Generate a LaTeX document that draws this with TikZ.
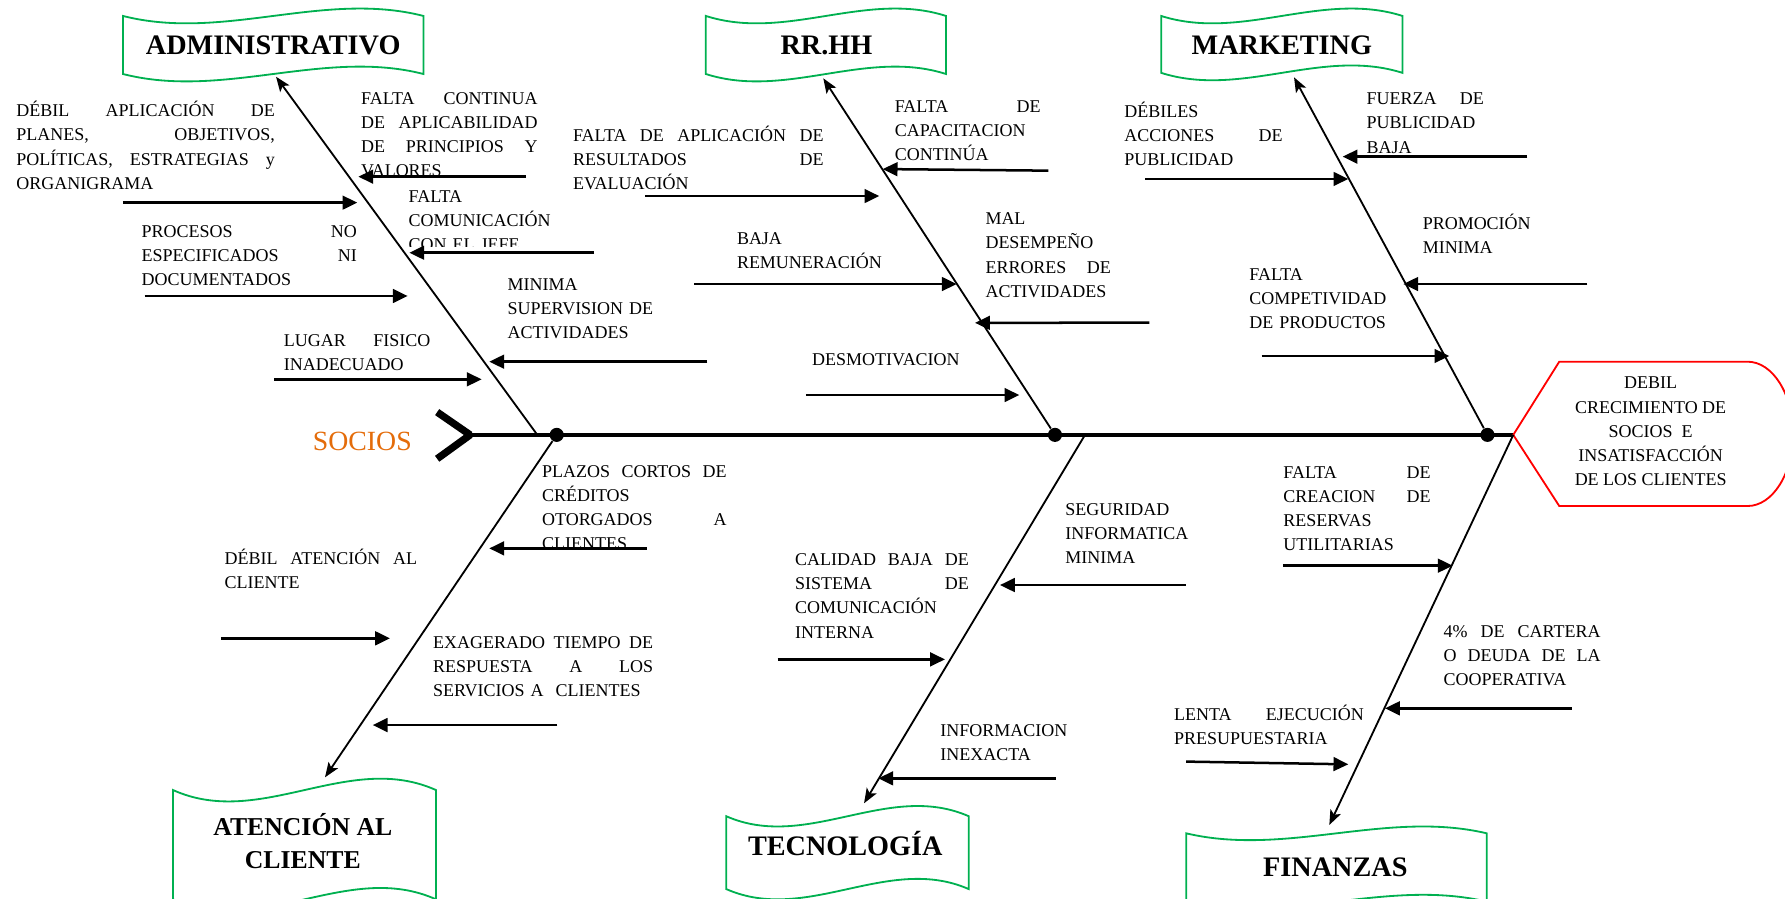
\documentclass[tikz,border=0pt]{standalone}
\usepackage{fontspec}
\setmainfont{Liberation Serif}
\usetikzlibrary{arrows.meta}

\definecolor{verdecinta}{RGB}{0,176,80}
\definecolor{naranjasocios}{RGB}{228,108,10}

% a justified line of a cause text (spaces stretched to the full width)
\newcommand{\jl}[1]{{\spaceskip=0.25em plus 1fil minus 0.05em\makebox[\linewidth][s]{#1}}}
% wavy ribbon outline: x-left, x-right, top edge, bottom edge, wave amplitude
\newcommand{\onda}[5]{%
  \draw[cinta] (#1,#3) .. controls ({#1+(#2-#1)/3},{#3+3.46*#5}) and ({#1+2*(#2-#1)/3},{#3-3.46*#5}) .. (#2,#3)
    -- (#2,#4) .. controls ({#1+2*(#2-#1)/3},{#4-3.46*#5}) and ({#1+(#2-#1)/3},{#4+3.46*#5}) .. (#1,#4) -- cycle;}
% horizontal cause arrow between two named coordinates
\newcommand{\causa}[5]{%
  \coordinate (#1-o) at (#2,#3);
  \coordinate (#1-f) at (#4,#5);
  \draw[flecha] (#1-o) -- (#1-f);}

\begin{document}
\begin{tikzpicture}[x=0.5pt,y=-0.5pt,
  flecha/.style={line width=1.1pt,-{Triangle[length=6.5pt,width=6pt]}},
  diag/.style={line width=0.8pt,-{Stealth[length=6.5pt,width=5pt,inset=1.5pt]}},
  cinta/.style={draw=verdecinta,line width=0.8pt},
  titulo/.style={inner sep=0pt,font=\fontsize{12.4}{14.5}\selectfont\bfseries,text height=8.2pt,text depth=0pt},
  txt/.style={anchor=north west,inner sep=0pt,align=left,font=\fontsize{7.9}{10.6}\selectfont,execute at begin node={\rule{0pt}{8pt}}},
  punto/.style={circle,fill=black,inner sep=0pt,minimum size=6.2pt},
]
\useasboundingbox (0,0) rectangle (1568,789);

% ---------- category ribbons ----------
\onda{108}{372}{14}{65}{6.5}
\onda{620}{831}{14}{65}{6.5}
\onda{1020}{1232}{14}{64}{6.5}
\onda{152}{383}{694}{790}{10}
\onda{638}{851}{717}{781}{9}
\onda{1042}{1306}{732}{792}{6}

\node[titulo] (adm)  at (240,40)   {ADMINISTRATIVO};
\node[titulo] (rrhh) at (726,40)   {RR.HH};
\node[titulo] (mkt)  at (1126,40)  {MARKETING};
\node[inner sep=0pt,align=center,font=\fontsize{11.3}{14.5}\selectfont\bfseries] (atc) at (266,738.7) {ATENCIÓN AL\\CLIENTE};
\node[titulo] (tec)  at (742.5,743) {TECNOLOGÍA};
\node[titulo] (fin)  at (1173,762) {FINANZAS};

% ---------- spine, head and effect ----------
\coordinate (cola) at (413,382);
\coordinate (ef)   at (1329.3,382);
\coordinate (jA)   at (472,382);
\coordinate (jT)   at (953.1,382);

\draw[line width=2pt] (cola) -- (ef);
\draw[line width=3.2pt,line join=bevel] (384,362) -- (cola) -- (384,403);
\node[anchor=base,inner sep=0pt,text=naranjasocios,font=\fontsize{12.2}{14}\selectfont] (socios) at (318.3,396.1) {SOCIOS};

\draw[red,line width=0.8pt] (ef) -- (1369.7,317.7) -- (1535,317.7)
  .. controls (1557.1,317.7) and (1575,346.1) .. (1575,381.1)
  .. controls (1575,416.1) and (1557.1,444.5) .. (1535,444.5)
  -- (1369.7,444.5) -- cycle;
\node[inner sep=0pt,align=center,font=\fontsize{7.9}{10.6}\selectfont] (efecto) at (1450,379)
  {DEBIL\\CRECIMIENTO DE\\SOCIOS\ \ E\\INSATISFACCIÓN\\DE LOS CLIENTES};

\node[punto] (d1) at (489,382) {};
\node[punto] (d2) at (926.7,382) {};
\node[punto] (d3) at (1306.6,382) {};

% ---------- main bones ----------
\draw[diag] (jA) -- ([shift={(2.5,27.4)}]adm.center);
\draw[diag] (d2) -- ([shift={(-2.8,28.8)}]rrhh.center);
\draw[diag] (d3) -- ([shift={(10.7,27.9)}]mkt.center);
\draw[diag] (d1) -- ([shift={(19.5,-55.9)}]atc.center);
\draw[diag] (jT) -- ([shift={(16.5,-37.4)}]tec.center);
\draw[diag] (ef) -- ([shift={(-5.3,-37.3)}]fin.center);

% ---------- ADMINISTRATIVO ----------
\node[txt,text width=113.5pt] (t1) at (14,86.2)
  {\jl{DÉBIL APLICACIÓN DE}\\\jl{PLANES, OBJETIVOS,}\\\jl{POLÍTICAS, ESTRATEGIAS y}\\ORGANIGRAMA};
\begin{scope}
  \clip (300,60) rectangle (490,154.6);
  \node[txt,text width=77.5pt] (t2) at (316.8,75)
    {\jl{FALTA CONTINUA}\\\jl{DE APLICABILIDAD}\\\jl{DE PRINCIPIOS Y}\\VALORES};
\end{scope}
\node[txt,text width=94.5pt] (t3) at (124,191.8)
  {\jl{PROCESOS NO}\\\jl{ESPECIFICADOS NI}\\DOCUMENTADOS};
\begin{scope}
  \clip (350,150) rectangle (520,216.8);
  \node[txt,text width=80pt] (t4) at (358.6,161.4) {FALTA\\COMUNICACIÓN\\CON EL JEFE};
\end{scope}
\node[txt,text width=80pt] (t5) at (445.6,238.7) {MINIMA\\SUPERVISION DE\\ACTIVIDADES};
\node[txt,text width=64.4pt] (t6) at (248.9,287.9) {\jl{LUGAR FISICO}\\INADECUADO};

\causa{a1}{108}{178}{313.9}{178}
\causa{a2}{462.1}{155.2}{314.8}{155.2}
\causa{a3}{127}{260}{358.1}{260}
\causa{a4}{521.8}{222}{359.6}{222}
\causa{a5}{621.3}{317.7}{429.8}{317.7}
\causa{a6}{240.7}{333.2}{423.1}{333.2}

% ---------- RR.HH ----------
\node[txt,text width=110pt] (t7) at (503,107.8)
  {\jl{FALTA DE APLICACIÓN DE}\\\jl{RESULTADOS DE}\\EVALUACIÓN};
\node[txt,text width=64pt] (t8) at (785.6,82.3) {\jl{FALTA DE}\\CAPACITACION\\CONTINÚA};
\node[txt,text width=80pt] (t9) at (647,198.4) {BAJA\\REMUNERACIÓN};
\node[txt,text width=55pt] (t10) at (865.3,181) {MAL\\DESEMPEÑO\\\jl{ERRORES DE}\\ACTIVIDADES};
\node[txt,text width=80pt] (t11) at (713,304.6) {DESMOTIVACION};

\causa{r1}{567}{172.2}{772.4}{172.2}
\causa{r2}{920.9}{149.9}{775.4}{148.5}
\causa{r3}{610}{249.5}{840.4}{249.5}
\causa{r4}{1009.6}{283.4}{856.5}{283.6}
\causa{r5}{708}{347}{895.4}{347}

% ---------- MARKETING ----------
\node[txt,text width=69.5pt] (t12) at (987.3,86.4) {DÉBILES\\\jl{ACCIONES DE}\\PUBLICIDAD};
\node[txt,text width=51.5pt] (t13) at (1200,75.6) {\jl{FUERZA DE}\\PUBLICIDAD\\BAJA};
\node[txt,text width=60pt] (t14) at (1249.4,185.4) {PROMOCIÓN\\MINIMA};
\node[txt,text width=70pt] (t15) at (1097.1,229.9) {FALTA\\COMPETIVIDAD\\DE PRODUCTOS};

\causa{m1}{1005.8}{157.2}{1184.4}{157.2}
\causa{m2}{1341.6}{137.6}{1179.4}{137.6}
\causa{m3}{1394.3}{249.5}{1232.7}{249.5}
\causa{m4}{1108.3}{312.7}{1273.1}{312.7}

% ---------- ATENCIÓN AL CLIENTE ----------
\begin{scope}
  \clip (470,395) rectangle (650,482);
  \node[txt,text width=81pt] (t16) at (475.8,402.9)
    {\jl{PLAZOS CORTOS DE}\\CRÉDITOS\\\jl{OTORGADOS A}\\CLIENTES};
\end{scope}
\node[txt,text width=84.5pt] (t17) at (197,479.7) {\jl{DÉBIL ATENCIÓN AL}\\CLIENTE};
\node[txt,text width=96.6pt] (t18) at (380.1,552.9)
  {\jl{EXAGERADO TIEMPO DE}\\\jl{RESPUESTA A LOS}\\SERVICIOS A\ \ CLIENTES};

\causa{b1}{568}{481.7}{429.8}{481.7}
\causa{b2}{194}{560.7}{342.6}{560.7}
\causa{b3}{489.6}{636.9}{327.4}{636.9}

% ---------- TECNOLOGÍA ----------
\node[txt,text width=70pt] (t19) at (935.5,436.6) {SEGURIDAD\\INFORMATICA\\MINIMA};
\node[txt,text width=76.3pt] (t20) at (698,480.5)
  {\jl{CALIDAD BAJA DE}\\\jl{SISTEMA DE}\\COMUNICACIÓN\\INTERNA};
\node[txt,text width=70pt] (t21) at (825.7,630.5) {INFORMACION\\INEXACTA};

\causa{c1}{1041.8}{513.9}{878.4}{513.9}
\causa{c2}{683}{579.2}{830.1}{579.2}
\causa{c3}{927.6}{683.7}{771.5}{683.7}

% ---------- FINANZAS ----------
\node[txt,text width=64.6pt] (t22) at (1127,403.5)
  {\jl{FALTA DE}\\\jl{CREACION DE}\\RESERVAS\\UTILITARIAS};
\node[txt,text width=68.9pt] (t23) at (1267.8,543.2)
  {\jl{4\% DE CARTERA}\\\jl{O DEUDA DE LA}\\COOPERATIVA};
\node[txt,text width=83.3pt] (t24) at (1031,616.4) {\jl{LENTA EJECUCIÓN}\\PRESUPUESTARIA};

\causa{f1}{1127}{496.9}{1276.1}{496.9}
\causa{f2}{1380.6}{622.2}{1216.6}{622.2}
\causa{f3}{1042}{669}{1184.4}{671.4}

\end{tikzpicture}
\end{document}
